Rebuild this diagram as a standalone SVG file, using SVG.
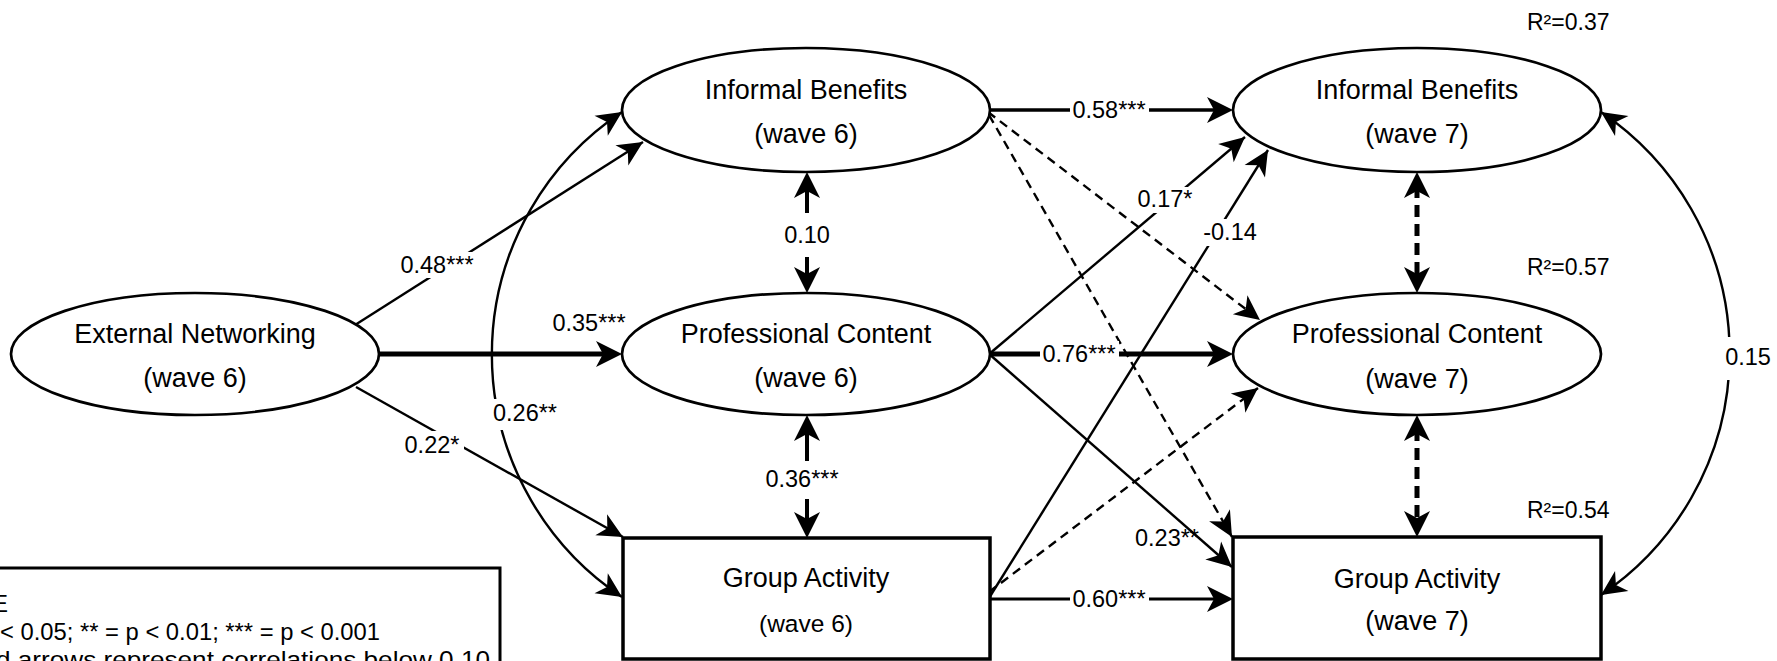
<svg xmlns="http://www.w3.org/2000/svg" width="1777" height="661" viewBox="0 0 1777 661">
<defs>
<style>
text { font-family: "Liberation Sans", Arial, Helvetica, sans-serif; fill: #000; }
.nt { font-size: 27px; text-anchor: middle; }
.nts { font-size: 24.5px; text-anchor: middle; }
.el { font-size: 23.5px; text-anchor: middle; }
.r2 { font-size: 23px; }
.lg { font-size: 24px; }
.node { fill: #fff; stroke: #000; stroke-width: 2.7; }
.box { fill: #fff; stroke: #000; stroke-width: 3.5; }
.c { fill: none; stroke: #000; stroke-width: 2.4; }
.th { stroke-width: 4.8; }
.md { stroke-width: 3.6; }
.d { stroke-dasharray: 9 6; }
.dt { stroke-width: 5; stroke-dasharray: 12 7; }
.bg { fill: #fff; stroke: none; }
</style>
<marker id="ah" viewBox="-26 -13 27 26" refX="0" refY="0" markerWidth="27" markerHeight="26" markerUnits="userSpaceOnUse" orient="auto-start-reverse">
<path d="M0,0 L-25,-12 L-18,0 L-25,12 Z" fill="#000" stroke="none"/>
</marker>
<marker id="aht" viewBox="-28 -14 29 28" refX="-14" refY="0" markerWidth="29" markerHeight="28" markerUnits="userSpaceOnUse" orient="auto-start-reverse">
<path d="M0,0 L-26,-13 L-19,0 L-26,13 Z" fill="#000" stroke="none"/>
</marker>
</defs>
<rect x="0" y="0" width="1777" height="661" fill="#fff"/>

<g id="connectors">
<path class="c" d="M355,325 L643,142" marker-end="url(#ah)"/>
<path class="c th" d="M375,354 L608,354" marker-end="url(#aht)"/>
<path class="c" d="M356,387 L623,537" marker-end="url(#ah)"/>
<path class="c" d="M622,112 A291,291 0 0 0 622,597" marker-start="url(#ah)" marker-end="url(#ah)"/>
<path class="c" d="M1601,112 A291,291 0 0 1 1601,595" marker-start="url(#ah)" marker-end="url(#ah)"/>
<path class="c" style="stroke-width:4" d="M807,186 L807,279" marker-start="url(#aht)" marker-end="url(#aht)"/>
<path class="c" style="stroke-width:4" d="M807,429 L807,524" marker-start="url(#aht)" marker-end="url(#aht)"/>
<path class="c md" d="M986,110 L1219,110" marker-end="url(#aht)"/>
<path class="c d" d="M988,112 L1260,320" marker-end="url(#ah)"/>
<path class="c d" d="M989,115 L1232,537" marker-end="url(#ah)"/>
<path class="c" d="M988,355 L1245,137" marker-end="url(#ah)"/>
<path class="c th" d="M986,354 L1219,354" marker-end="url(#aht)"/>
<path class="c" d="M988,353 L1232,567" marker-end="url(#ah)"/>
<path class="c" d="M989,598 L1268,150" marker-end="url(#ah)"/>
<path class="c d" d="M989,592 L1258,388" marker-end="url(#ah)"/>
<path class="c" style="stroke-width:3.2" d="M989,599 L1219,599" marker-end="url(#aht)"/>
<path class="c dt" d="M1417,186 L1417,279" marker-start="url(#aht)" marker-end="url(#aht)"/>
<path class="c dt" d="M1417,429 L1417,523" marker-start="url(#aht)" marker-end="url(#aht)"/>
</g>

<g id="node-external-networking">
<ellipse class="node" cx="195" cy="354" rx="184" ry="61"/>
<text class="nt" x="195" y="343">External Networking</text>
<text class="nt" x="195" y="387">(wave 6)</text>
</g>
<g id="node-informal-benefits-6">
<ellipse class="node" cx="806" cy="110" rx="184" ry="62"/>
<text class="nt" x="806" y="99">Informal Benefits</text>
<text class="nt" x="806" y="143">(wave 6)</text>
</g>
<g id="node-professional-content-6">
<ellipse class="node" cx="806" cy="354" rx="184" ry="61"/>
<text class="nt" x="806" y="343">Professional Content</text>
<text class="nt" x="806" y="387">(wave 6)</text>
</g>
<g id="node-group-activity-6">
<rect class="box" x="623" y="538" width="367" height="121"/>
<text class="nt" x="806" y="587">Group Activity</text>
<text class="nts" x="806" y="632">(wave 6)</text>
</g>
<g id="node-informal-benefits-7">
<ellipse class="node" cx="1417" cy="110" rx="184" ry="62"/>
<text class="nt" x="1417" y="99">Informal Benefits</text>
<text class="nt" x="1417" y="143">(wave 7)</text>
</g>
<g id="node-professional-content-7">
<ellipse class="node" cx="1417" cy="354" rx="184" ry="61"/>
<text class="nt" x="1417" y="343">Professional Content</text>
<text class="nt" x="1417" y="388">(wave 7)</text>
</g>
<g id="node-group-activity-7">
<rect class="box" x="1233" y="537" width="368" height="122"/>
<text class="nt" x="1417" y="588">Group Activity</text>
<text class="nt" x="1417" y="630">(wave 7)</text>
</g>

<g id="edge-labels">
<rect class="bg" x="398" y="252" width="80" height="26"/>
<text class="el" x="437" y="273">0.48***</text>
<text class="el" x="589" y="331">0.35***</text>
<rect class="bg" x="402" y="431" width="62" height="27"/>
<text class="el" x="432" y="453">0.22*</text>
<rect class="bg" x="490" y="399" width="70" height="31"/>
<text class="el" x="525" y="421">0.26**</text>
<rect class="bg" x="782" y="213" width="50" height="44"/>
<text class="el" x="807" y="243">0.10</text>
<rect class="bg" x="764" y="461" width="78" height="38"/>
<text class="el" x="802" y="487">0.36***</text>
<rect class="bg" x="1070" y="97" width="79" height="26"/>
<text class="el" x="1109" y="118">0.58***</text>
<rect class="bg" x="1137" y="187" width="57" height="26"/>
<text class="el" x="1165" y="207">0.17*</text>
<rect class="bg" x="1201" y="219" width="58" height="27"/>
<text class="el" x="1230" y="240">-0.14</text>
<rect class="bg" x="1040" y="341" width="79" height="26"/>
<text class="el" x="1079" y="362">0.76***</text>
<text class="el" x="1167" y="546">0.23**</text>
<rect class="bg" x="1070" y="586" width="79" height="26"/>
<text class="el" x="1109" y="607">0.60***</text>
<rect class="bg" x="1722" y="337" width="54" height="43"/>
<text class="el" x="1748" y="365">0.15</text>
<text class="r2" x="1527" y="30">R²=0.37</text>
<text class="r2" x="1527" y="275">R²=0.57</text>
<text class="r2" x="1527" y="518">R²=0.54</text>
</g>

<g id="legend">
<rect x="-10" y="568" width="510" height="110" fill="#fff" stroke="#000" stroke-width="3"/>
<text class="lg" x="-8" y="612">E</text>
<text class="lg" x="0" y="640" textLength="380" lengthAdjust="spacingAndGlyphs">&lt; 0.05; ** = p &lt; 0.01; *** = p &lt; 0.001</text>
<text class="lg" x="-4" y="668" textLength="494" lengthAdjust="spacingAndGlyphs">d arrows represent correlations below 0.10</text>
</g>
</svg>
